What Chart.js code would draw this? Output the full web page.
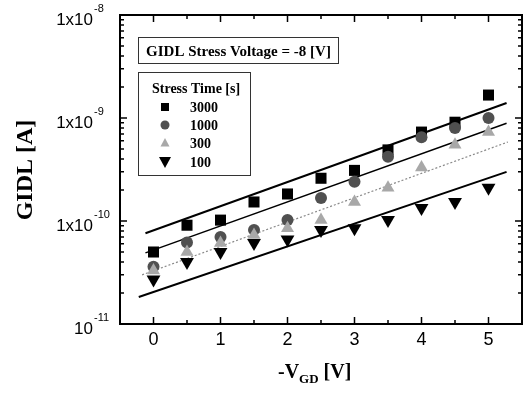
<!DOCTYPE html>
<html>
<head>
<meta charset="utf-8">
<title>GIDL vs -VGD</title>
<script src="https://cdn.jsdelivr.net/npm/chart.js@4/dist/chart.umd.min.js"></script>
<style>
  html, body { margin: 0; padding: 0; background: #fff; }
  #wrap { width: 530px; height: 395px; }
</style>
</head>
<body>
<div id="wrap"><canvas id="chart" width="530" height="395"></canvas></div>
<script>
  var vgd = [0, 0.5, 1, 1.5, 2, 2.5, 3, 3.5, 4, 4.5, 5];
  var gidl3000 = [5.0e-11, 9.1e-11, 1.02e-10, 1.53e-10, 1.83e-10, 2.6e-10, 3.1e-10, 4.9e-10, 7.3e-10, 9.1e-10, 1.67e-9];
  var gidl1000 = [3.6e-11, 6.2e-11, 7.0e-11, 8.2e-11, 1.02e-10, 1.67e-10, 2.4e-10, 4.2e-10, 6.5e-10, 8.0e-10, 1.0e-9];
  var gidl300 = [3.3e-11, 5.0e-11, 6.1e-11, 7.3e-11, 8.5e-11, 1.02e-10, 1.53e-10, 2.1e-10, 3.3e-10, 5.5e-10, 7.3e-10];
  var gidl100 = [2.7e-11, 4.0e-11, 5.0e-11, 6.1e-11, 6.6e-11, 8.2e-11, 8.5e-11, 1.02e-10, 1.34e-10, 1.53e-10, 2.1e-10];

  // fitted lines (end points)
  var fitX3000 = [-0.12, 5.27];
  var fit3000 = [7.6e-11, 1.4e-9];
  var fitX1000 = [-0.12, 5.27];
  var fit1000 = [4.9e-11, 8.9e-10];
  var fitX300 = [-0.17, 5.29];
  var fit300 = [3.0e-11, 5.85e-10];
  var fitX100 = [-0.22, 5.27];
  var fit100 = [1.83e-11, 3.0e-10];

  var stressTimes = ['3000', '1000', '300', '100'];
  var xTicks = [0, 1, 2, 3, 4, 5];
  var xMinorTicks = [0.5, 1.5, 2.5, 3.5, 4.5];
  var yTickValues = [1e-8, 1e-9, 1e-10, 1e-11];
  var yTickBases = ['1x10', '1x10', '1x10', '10'];
  var yTickExps = ['-8', '-9', '-10', '-11'];

  var serif = '"Liberation Serif", "Times New Roman", serif';
  var sans = '"Liberation Sans", Arial, sans-serif';

  var styles = {
    s3000: { pointStyle: 'rect', radius: 7.8, color: '#000' },
    s1000: { pointStyle: 'circle', radius: 6, color: '#505050' },
    s300: { pointStyle: 'triangle', radius: 7.5, color: '#a8a8a8' },
    s100: { pointStyle: 'triangle', radius: 8, color: '#000', rotation: 180 }
  };

  function pts(xs, ys) {
    return xs.map(function (x, i) { return { x: x, y: ys[i] }; });
  }

  function pointSet(label, ys, st, order) {
    return {
      label: label,
      data: pts(vgd, ys),
      pointStyle: st.pointStyle,
      pointRadius: st.radius,
      pointRotation: st.rotation || 0,
      pointBackgroundColor: st.color,
      pointBorderColor: st.color,
      pointBorderWidth: 0,
      showLine: false,
      order: order
    };
  }

  function fitSet(xs, ys, color, width, dash) {
    return {
      type: 'line',
      data: pts(xs, ys),
      borderColor: color,
      borderWidth: width,
      borderDash: dash || [],
      pointRadius: 0,
      showLine: true,
      fill: false,
      order: 10
    };
  }

  function drawMarker(ctx, kind, x, y) {
    ctx.beginPath();
    if (kind === 'rect') {
      ctx.fillStyle = '#000';
      ctx.rect(x - 4, y - 4, 8, 8);
    } else if (kind === 'circle') {
      ctx.fillStyle = '#505050';
      ctx.arc(x, y, 4.5, 0, Math.PI * 2);
    } else if (kind === 'up') {
      ctx.fillStyle = '#a8a8a8';
      ctx.moveTo(x, y - 5);
      ctx.lineTo(x + 4.5, y + 3.5);
      ctx.lineTo(x - 4.5, y + 3.5);
      ctx.closePath();
    } else {
      ctx.fillStyle = '#000';
      ctx.moveTo(x - 6, y - 5);
      ctx.lineTo(x + 6, y - 5);
      ctx.lineTo(x, y + 6);
      ctx.closePath();
    }
    ctx.fill();
  }

  var decorations = {
    id: 'decorations',
    afterDraw: function (chart) {
      var ctx = chart.ctx;
      var a = chart.chartArea;
      var xs = chart.scales.x;
      var ys = chart.scales.y;
      ctx.save();
      ctx.strokeStyle = '#000';
      ctx.lineWidth = 1.5;

      // x ticks, bottom and top, pointing in
      function xTick(v, len) {
        var px = xs.getPixelForValue(v);
        ctx.beginPath();
        ctx.moveTo(px, a.bottom); ctx.lineTo(px, a.bottom - len);
        ctx.moveTo(px, a.top); ctx.lineTo(px, a.top + len);
        ctx.stroke();
      }
      xTicks.forEach(function (v) { xTick(v, 7); });
      xMinorTicks.forEach(function (v) { xTick(v, 4); });

      // y ticks, left and right
      function yTick(v, len) {
        var py = ys.getPixelForValue(v);
        ctx.beginPath();
        ctx.moveTo(a.left, py); ctx.lineTo(a.left + len, py);
        ctx.moveTo(a.right, py); ctx.lineTo(a.right - len, py);
        ctx.stroke();
      }
      yTickValues.forEach(function (v) {
        yTick(v, 7);
        if (v < 1e-8) {
          for (var m = 2; m <= 9; m++) yTick(v * m, 4);
        }
      });

      // frame
      ctx.lineWidth = 2;
      ctx.strokeRect(a.left, a.top, a.right - a.left, a.bottom - a.top);

      // y tick labels with superscripts
      ctx.fillStyle = '#000';
      ctx.textBaseline = 'alphabetic';
      yTickValues.forEach(function (v, i) {
        var py = ys.getPixelForValue(v);
        ctx.font = '17px ' + sans;
        ctx.textAlign = 'right';
        ctx.fillText(yTickBases[i], 93, py + 10);
        ctx.font = '11px ' + sans;
        ctx.textAlign = 'left';
        ctx.fillText(yTickExps[i], 94, py - 3);
      });

      // x tick labels
      ctx.font = '18px ' + sans;
      ctx.textAlign = 'center';
      xTicks.forEach(function (v) {
        ctx.fillText(String(v), xs.getPixelForValue(v), 345);
      });

      // x title: -V_GD [V]
      ctx.textAlign = 'left';
      var tx = 278;
      ctx.font = 'bold 20px ' + serif;
      ctx.fillText('-V', tx, 378);
      tx += ctx.measureText('-V').width;
      ctx.font = 'bold 13px ' + serif;
      ctx.fillText('GD', tx, 383);
      tx += ctx.measureText('GD').width;
      ctx.font = 'bold 20px ' + serif;
      ctx.fillText(' [V]', tx, 378);

      // y title
      ctx.save();
      ctx.translate(32, 170);
      ctx.rotate(-Math.PI / 2);
      ctx.font = 'bold 24px ' + serif;
      ctx.textAlign = 'center';
      ctx.fillText('GIDL [A]', 0, 0);
      ctx.restore();

      // info box
      ctx.lineWidth = 1;
      ctx.strokeStyle = '#333';
      ctx.fillStyle = '#fff';
      ctx.fillRect(138.5, 37.5, 200, 26);
      ctx.strokeRect(138.5, 37.5, 200, 26);
      ctx.fillStyle = '#000';
      ctx.font = 'bold 15px ' + serif;
      ctx.textAlign = 'center';
      ctx.fillText('GIDL Stress Voltage = -8 [V]', 238.5, 56);

      // legend box
      ctx.fillStyle = '#fff';
      ctx.fillRect(138.5, 72.5, 112, 103);
      ctx.strokeRect(138.5, 72.5, 112, 103);
      ctx.fillStyle = '#000';
      ctx.font = 'bold 14px ' + serif;
      ctx.textAlign = 'left';
      ctx.fillText('Stress Time [s]', 152, 93);
      var kinds = ['rect', 'circle', 'up', 'down'];
      var rowY = [107, 125, 143, 162];
      stressTimes.forEach(function (t, i) {
        drawMarker(ctx, kinds[i], 165, rowY[i]);
        ctx.fillStyle = '#000';
        ctx.font = 'bold 14px ' + serif;
        ctx.fillText(t, 190, rowY[i] + 5);
      });

      ctx.restore();
    }
  };

  new Chart(document.getElementById('chart'), {
    type: 'scatter',
    data: {
      datasets: [
        fitSet(fitX3000, fit3000, '#000', 2),
        fitSet(fitX1000, fit1000, '#000', 1.5),
        fitSet(fitX300, fit300, '#8a8a8a', 1.2, [2, 2]),
        fitSet(fitX100, fit100, '#000', 2),
        pointSet('3000', gidl3000, styles.s3000, 4),
        pointSet('1000', gidl1000, styles.s1000, 3),
        pointSet('300', gidl300, styles.s300, 2),
        pointSet('100', gidl100, styles.s100, 1)
      ]
    },
    options: {
      responsive: false,
      animation: false,
      devicePixelRatio: 1,
      layout: { padding: { top: 15, right: 6, left: 0, bottom: 0 } },
      plugins: {
        legend: { display: false },
        tooltip: { enabled: false }
      },
      scales: {
        x: {
          type: 'linear',
          min: -0.5,
          max: 5.5,
          grid: { display: false },
          border: { display: false },
          ticks: { display: false },
          afterFit: function (s) { s.height = 71; }
        },
        y: {
          type: 'logarithmic',
          min: 1e-11,
          max: 1e-8,
          grid: { display: false },
          border: { display: false },
          ticks: { display: false },
          afterFit: function (s) { s.width = 120; }
        }
      }
    },
    plugins: [decorations]
  });
</script>
</body>
</html>
